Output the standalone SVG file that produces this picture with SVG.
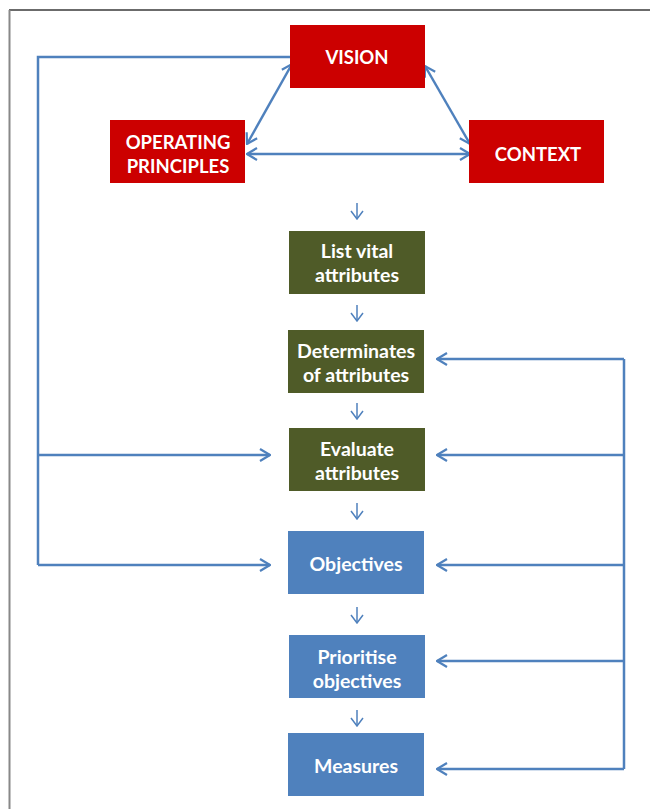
<svg xmlns="http://www.w3.org/2000/svg" width="650" height="809" viewBox="0 0 650 809">
<style>
.red{fill:#CC0000}
.grn{fill:#4F5B28}
.blu{fill:#4F81BD}
.t{font-family:Lato,"Open Sans",sans-serif;font-weight:bold;font-size:19.5px;fill:#fff;text-anchor:middle}
.u{font-size:18.5px}
.c{fill:none;stroke:#4F81BD;stroke-width:2.5}
.s{fill:none;stroke:#4F81BD;stroke-width:1.5}
</style>
<defs>
<marker id="ah" markerUnits="userSpaceOnUse" viewBox="0 0 12 14" refX="11" refY="7" markerWidth="12" markerHeight="14" orient="auto-start-reverse">
<path d="M1,1 L11,7 L1,13" fill="none" stroke="#4F81BD" stroke-width="2.2"/>
</marker>
<marker id="sh" markerUnits="userSpaceOnUse" viewBox="0 0 10 14" refX="9" refY="7" markerWidth="10" markerHeight="14" orient="auto">
<path d="M1,1 L9,7 L1,13" fill="none" stroke="#4F81BD" stroke-width="1.5"/>
</marker>
</defs>
<rect width="650" height="809" fill="#fff"/>
<g id="frame">
<line x1="9" y1="10" x2="650" y2="10" stroke="#3a3a3a" stroke-width="1.5"/>
<line x1="9.5" y1="10" x2="9.5" y2="809" stroke="#888" stroke-width="2"/>
</g>
<g id="connectors">
<line class="c" x1="292" y1="64" x2="247" y2="144" marker-start="url(#ah)" marker-end="url(#ah)"/>
<line class="c" x1="425" y1="66" x2="470" y2="144" marker-start="url(#ah)" marker-end="url(#ah)"/>
<line class="c" x1="247" y1="154" x2="470" y2="154" marker-start="url(#ah)" marker-end="url(#ah)"/>
<polyline class="c" points="290,57 38,57 38,565"/>
<line class="c" x1="38" y1="455" x2="270" y2="455" marker-end="url(#ah)"/>
<line class="c" x1="38" y1="565" x2="270" y2="565" marker-end="url(#ah)"/>
<line class="c" x1="624" y1="359" x2="624" y2="769"/>
<line class="c" x1="624" y1="359" x2="437" y2="359" marker-end="url(#ah)"/>
<line class="c" x1="624" y1="455" x2="437" y2="455" marker-end="url(#ah)"/>
<line class="c" x1="624" y1="565" x2="437" y2="565" marker-end="url(#ah)"/>
<line class="c" x1="624" y1="661" x2="437" y2="661" marker-end="url(#ah)"/>
<line class="c" x1="624" y1="769" x2="437" y2="769" marker-end="url(#ah)"/>
<line class="s" x1="357" y1="203" x2="357" y2="219" marker-end="url(#sh)"/>
<line class="s" x1="357" y1="305" x2="357" y2="321" marker-end="url(#sh)"/>
<line class="s" x1="357" y1="403" x2="357" y2="419" marker-end="url(#sh)"/>
<line class="s" x1="357" y1="503" x2="357" y2="519" marker-end="url(#sh)"/>
<line class="s" x1="357" y1="607" x2="357" y2="623" marker-end="url(#sh)"/>
<line class="s" x1="357" y1="710" x2="357" y2="726" marker-end="url(#sh)"/>
</g>
<g id="vision"><rect class="red" x="290" y="25" width="135" height="63"/><text class="t u" x="357" y="64">VISION</text></g>
<g id="operating"><rect class="red" x="110" y="120" width="135" height="63"/><text class="t u" x="178" y="149">OPERATING</text><text class="t u" x="178" y="173">PRINCIPLES</text></g>
<g id="context"><rect class="red" x="469" y="120" width="135" height="63"/><text class="t u" x="538" y="161">CONTEXT</text></g>
<g id="list"><rect class="grn" x="289" y="231" width="136" height="63"/><text class="t" x="357" y="258">List vital</text><text class="t" x="357" y="282">attributes</text></g>
<g id="determinates"><rect class="grn" x="288" y="330" width="136" height="63"/><text class="t" x="356" y="358">Determinates</text><text class="t" x="356" y="382">of attributes</text></g>
<g id="evaluate"><rect class="grn" x="289" y="428" width="136" height="63"/><text class="t" x="357" y="456">Evaluate</text><text class="t" x="357" y="480">attributes</text></g>
<g id="objectives"><rect class="blu" x="288" y="531" width="136" height="63"/><text class="t" x="356" y="571">Objectives</text></g>
<g id="prioritise"><rect class="blu" x="289" y="635" width="136" height="63"/><text class="t" x="357" y="664">Prioritise</text><text class="t" x="357" y="688">objectives</text></g>
<g id="measures"><rect class="blu" x="288" y="733" width="136" height="63"/><text class="t" x="356" y="773">Measures</text></g>
</svg>
